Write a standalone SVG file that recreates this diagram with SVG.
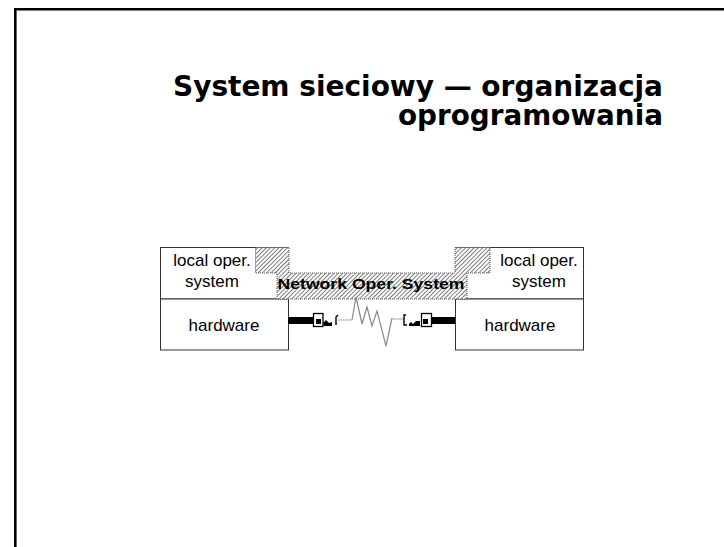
<svg xmlns="http://www.w3.org/2000/svg" width="724" height="547" viewBox="0 0 724 547">
  <defs>
    <pattern id="hatch" patternUnits="userSpaceOnUse" width="3" height="3" patternTransform="rotate(45)">
      <rect width="3" height="3" fill="#ffffff"/>
      <line x1="0" y1="0" x2="0" y2="3" stroke="#444444" stroke-width="1.4"/>
    </pattern>
    <style>
      .frame { fill: none; stroke: #000; stroke-width: 2.6; }
      .title { font-family: "DejaVu Sans", Verdana, sans-serif; font-weight: bold; font-size: 27.5px; fill: #000; text-anchor: end; }
      .box { fill: #fff; stroke: #333; stroke-width: 1; }
      .lbl { font-family: "Liberation Sans", Arial, sans-serif; font-size: 17px; fill: #000; text-anchor: middle; }
      .nos { fill: url(#hatch); stroke: #555; stroke-width: 1; stroke-dasharray: 1 1; }
      .nostxt { font-family: "Liberation Sans", Arial, sans-serif; font-weight: bold; font-size: 15.5px; fill: #000; text-anchor: middle; }
      .cable { fill: #000; }
      .plug { fill: #fff; stroke: #000; stroke-width: 1.3; }
      .wire { fill: none; stroke: #aaa; stroke-width: 1; }
      .bolt { fill: none; stroke: #888; stroke-width: 1.2; stroke-linejoin: miter; }
    </style>
  </defs>

  <!-- page frame -->
  <path class="frame" d="M15.3,547 V9.3 H724"/>

  <!-- heading, two right-aligned lines -->
  <g id="title">
    <text class="title" x="663" y="96" textLength="490" lengthAdjust="spacingAndGlyphs">System sieciowy — organizacja</text>
    <text class="title" x="663" y="124.5" textLength="265" lengthAdjust="spacingAndGlyphs">oprogramowania</text>
  </g>

  <!-- left host -->
  <g id="host-left">
    <rect class="box" x="160.5" y="247.5" width="128" height="51.5"/>
    <rect class="box" x="160.5" y="299" width="128" height="51"/>
    <text class="lbl" x="212" y="266">local oper.</text>
    <text class="lbl" x="212" y="287">system</text>
    <text class="lbl" x="224" y="331">hardware</text>
  </g>

  <!-- right host -->
  <g id="host-right">
    <rect class="box" x="455.5" y="247.5" width="128" height="51.5"/>
    <rect class="box" x="455.5" y="299" width="128" height="51"/>
    <text class="lbl" x="539" y="266">local oper.</text>
    <text class="lbl" x="539" y="287">system</text>
    <text class="lbl" x="520" y="331">hardware</text>
  </g>

  <!-- network operating system layer -->
  <g id="nos">
    <path class="nos" d="M255.5,247.5 H289 V273 H455 V247.5 H490 V273 H467 V299 H277 V273 H255.5 Z"/>
    <text class="nostxt" x="371" y="289" textLength="187" lengthAdjust="spacingAndGlyphs">Network Oper. System</text>
  </g>

  <!-- network link between the hosts -->
  <g id="connectors">
    <rect class="cable" x="288" y="317" width="25" height="7"/>
    <rect class="plug" x="313.5" y="313.5" width="9.5" height="13"/>
    <rect class="cable" x="316" y="319" width="5" height="5"/>
    <path d="M323,323 L326,320 L329,323 L332,322 V326 L324,326 Z" fill="#000"/>
    <path d="M336,325 V317 L338,315" fill="none" stroke="#000" stroke-width="1.4"/>
    <path class="wire" d="M338,320 H352"/>
    <path class="bolt" d="M352,320 L356,297 L362,324 L367,307 L372,326 L377,311 L386,346 L392,318"/>
    <path class="wire" d="M392,319 H404"/>
    <path d="M406,315 H404 V325 H407" fill="none" stroke="#000" stroke-width="1.4"/>
    <path d="M409,324 L411,322 L413,324 L416,321 L420,321 L420,326 L409,326 Z" fill="#000"/>
    <rect class="plug" x="421.5" y="313.5" width="10" height="13"/>
    <rect class="cable" x="423" y="319" width="5" height="5"/>
    <rect class="cable" x="432" y="317" width="23" height="7"/>
  </g>
</svg>
